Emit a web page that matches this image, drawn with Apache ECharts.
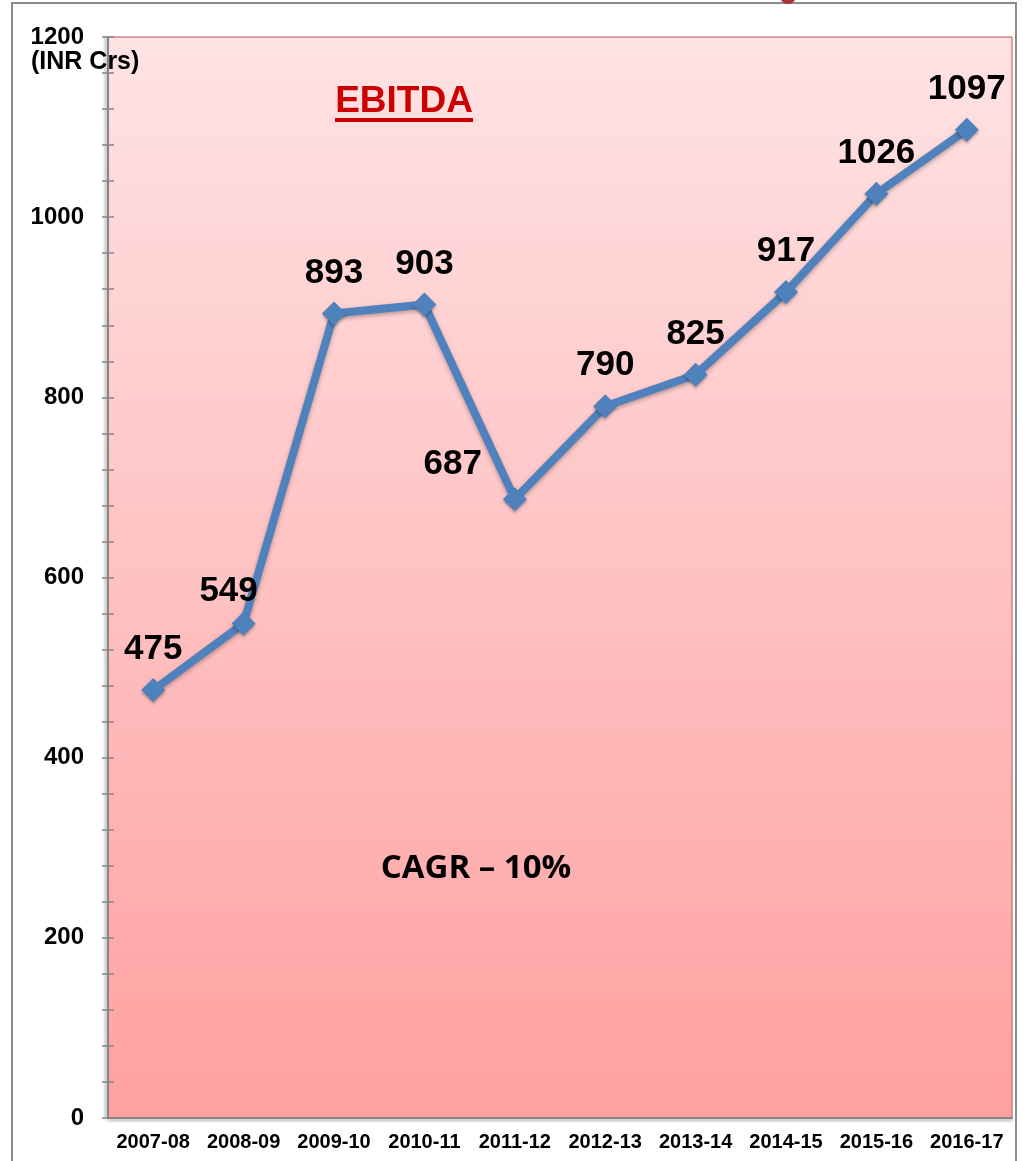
<!DOCTYPE html>
<html>
<head>
<meta charset="utf-8">
<script src="https://cdn.jsdelivr.net/npm/echarts@6/dist/echarts.min.js"></script>
<style>
  html, body { margin: 0; padding: 0; background: #fff; }
  #chart { width: 1023px; height: 1161px; }
</style>
</head>
<body>
<div id="chart"></div>
<script>
var years = ['2007-08', '2008-09', '2009-10', '2010-11', '2011-12', '2012-13', '2013-14', '2014-15', '2015-16', '2016-17'];
var ebitda = [475, 549, 893, 903, 687, 790, 825, 917, 1026, 1097];
// label nudges (x, y) per point, px
var labelShift = [[0, 0], [-15, 8], [0, 0], [0, 0], [-62, 6], [0, 0], [0, 0], [0, 0], [0, 0], [0, 0]];
var yMin = 0, yMax = 1200, yStep = 200;

var chart = echarts.init(document.getElementById('chart'));

var pts = ebitda.map(function (v, i) {
  return {
    value: v,
    label: { offset: labelShift[i] }
  };
});

var tickStyle = { color: '#868686', width: 1.5 };

var option = {
  animation: false,
  grid: {
    left: 108, right: 11, top: 37, bottom: 43,
    show: true,
    borderColor: '#C0504D',
    borderWidth: 1,
    backgroundColor: new echarts.graphic.LinearGradient(0, 0, 0, 1, [
      { offset: 0, color: '#FFE3E4' },
      { offset: 1, color: '#FFA0A0' }
    ])
  },
  xAxis: {
    type: 'category',
    data: years,
    boundaryGap: true,
    axisLine: { lineStyle: { color: '#868686', width: 2, shadowColor: 'rgba(0,0,0,0.35)', shadowBlur: 3, shadowOffsetY: 2 } },
    axisTick: { show: false },
    axisLabel: { interval: 0, color: '#000', fontWeight: 'bold', fontSize: 20, fontFamily: 'Liberation Sans, Arial', margin: 14 }
  },
  yAxis: [{
    type: 'value',
    min: yMin, max: yMax, interval: yStep,
    axisLine: { show: true, lineStyle: { color: '#868686', width: 2, shadowColor: 'rgba(0,0,0,0.35)', shadowBlur: 3, shadowOffsetX: -2 } },
    axisTick: { show: true, length: 6, lineStyle: tickStyle },
    minorTick: { show: true, splitNumber: 5, length: 6, lineStyle: tickStyle },
    splitLine: { show: false },
    axisLabel: {
      color: '#000', fontWeight: 'bold', fontSize: 24, fontFamily: 'Liberation Sans, Arial', margin: 24,
      formatter: function (v) { return String(v); }
    }
  }, {
    type: 'value',
    position: 'left',
    min: yMin, max: yMax, interval: yStep,
    axisLine: { show: false },
    axisTick: { show: true, inside: true, length: 6, lineStyle: tickStyle },
    minorTick: { show: true, splitNumber: 5, length: 6, lineStyle: tickStyle },
    splitLine: { show: false },
    axisLabel: { show: false }
  }],
  series: [{
    type: 'line',
    data: pts,
    symbol: 'diamond',
    symbolSize: 24,
    lineStyle: { color: '#4F81BD', width: 8, shadowColor: 'rgba(0,0,0,0.3)', shadowBlur: 4, shadowOffsetY: 2 },
    itemStyle: { color: '#4F81BD', shadowColor: 'rgba(0,0,0,0.3)', shadowBlur: 3, shadowOffsetY: 2 },
    label: {
      show: true,
      position: 'top',
      distance: 11,
      color: '#000',
      fontWeight: 'bold',
      fontSize: 35,
      fontFamily: 'Liberation Sans, Arial'
    }
  }],
  graphic: [
    {
      type: 'rect',
      shape: { x: 12, y: 3, width: 1004, height: 1170 },
      style: { fill: 'none', stroke: '#8C8C8C', lineWidth: 2 },
      z: -1
    },
    {
      type: 'circle',
      shape: { cx: 788, cy: -4, r: 8 },
      style: { fill: '#B0303A' }
    },
    {
      type: 'text',
      left: 31, top: 50,
      style: { text: '(INR Crs)', fill: '#000', font: 'bold 25px "Liberation Sans", Arial' },
      z: 10
    },
    {
      type: 'text',
      x: 404, y: 102,
      style: { text: 'EBITDA', fill: '#CC0000', font: 'bold 37px "Liberation Sans", Arial', textAlign: 'center', textVerticalAlign: 'middle' },
      z: 10
    },
    {
      type: 'rect',
      shape: { x: 335, y: 118, width: 138, height: 4 },
      style: { fill: '#CC0000' },
      z: 10
    },
    {
      type: 'text',
      x: 476, y: 869,
      style: { text: 'CAGR – 10%', fill: '#000', font: 'bold 33px "Open Sans", Lato, sans-serif', textAlign: 'center', textVerticalAlign: 'middle' },
      z: 10
    }
  ]
};

chart.setOption(option);
</script>
</body>
</html>
